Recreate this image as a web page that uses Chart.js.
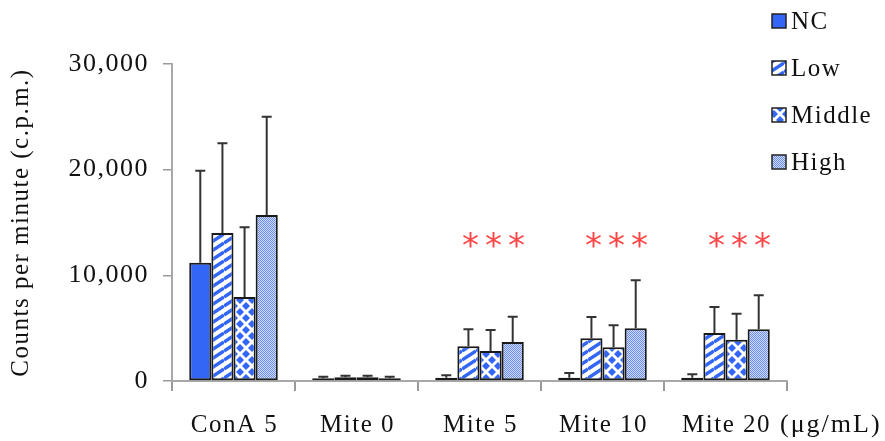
<!DOCTYPE html>
<html>
<head>
<meta charset="utf-8">
<script src="https://cdn.jsdelivr.net/npm/chart.js@4.4.1/dist/chart.umd.min.js"></script>
<style>
  html, body { margin: 0; padding: 0; background: #fff; }
</style>
</head>
<body>
<canvas id="myChart" width="885" height="441"></canvas>
<script>
// data
const groups = ["ConA 5", "Mite 0", "Mite 5", "Mite 10", "Mite 20"];
const seriesNames = ["NC", "Low", "Middle", "High"];
const ncVals = [11200, 250, 300, 300, 300];
const lowVals = [14000, 350, 3300, 4050, 4550];
const midVals = [7950, 350, 2850, 3200, 3900];
const highVals = [15700, 250, 3700, 5000, 4900];
const ncErr = [8700, 150, 250, 450, 350];
const lowErr = [8500, 150, 1600, 2000, 2450];
const midErr = [6600, 150, 1980, 2080, 2460];
const highErr = [9300, 150, 2370, 4540, 3220];
const yTicks = [0, 10000, 20000, 30000];
const stars = ["", "", "***", "***", "***"];
const starLevel = 13300;
const unitLabel = "(\u03bcg/mL)";

const serif = "'Liberation Serif', 'Times New Roman', serif";
const blue = "#3366f5";

// fill patterns
function makeTile(w, h, draw) {
  let c = document.createElement("canvas");
  c.width = w;
  c.height = h;
  let g = c.getContext("2d");
  draw(g);
  return document.getElementById("myChart").getContext("2d").createPattern(c, "repeat");
}

let stripes = makeTile(14, 9, (g) => {
  g.fillStyle = "#fff";
  g.fillRect(0, 0, 14, 9);
  g.strokeStyle = blue;
  g.lineWidth = 3.5;
  g.beginPath();
  for (let k = -1; k <= 1; k++) {
    g.moveTo(0, 9 + k * 9);
    g.lineTo(14, k * 9);
  }
  g.stroke();
});

let diamonds = makeTile(12, 12, (g) => {
  g.fillStyle = "#fff";
  g.fillRect(0, 0, 12, 12);
  g.fillStyle = blue;
  let pts = [[6, 6], [0, 0], [12, 0], [0, 12], [12, 12]];
  pts.forEach((p) => {
    g.beginPath();
    g.moveTo(p[0], p[1] - 4);
    g.lineTo(p[0] + 4, p[1]);
    g.lineTo(p[0], p[1] + 4);
    g.lineTo(p[0] - 4, p[1]);
    g.closePath();
    g.fill();
  });
});

let checker = makeTile(2, 2, (g) => {
  g.fillStyle = "#d2ddfc";
  g.fillRect(0, 0, 2, 2);
  g.fillStyle = "#6a8cf2";
  g.fillRect(0, 0, 1, 1);
  g.fillRect(1, 1, 1, 1);
});

// the old figure's text is set wide
const spacing = {
  id: "spacing",
  beforeUpdate(chart) { chart.ctx.letterSpacing = "1.5px"; },
  beforeDraw(chart) { chart.ctx.letterSpacing = "1.5px"; }
};

const errorBars = {
  id: "errorBars",
  afterDatasetsDraw(chart) {
    let ctx = chart.ctx;
    let y = chart.scales.y;
    ctx.save();
    ctx.strokeStyle = "#333";
    ctx.lineWidth = 2;
    chart.data.datasets.forEach((ds, i) => {
      let meta = chart.getDatasetMeta(i);
      meta.data.forEach((bar, j) => {
        let top = y.getPixelForValue(ds.data[j] + ds.errors[j]);
        ctx.beginPath();
        ctx.moveTo(bar.x, bar.y);
        ctx.lineTo(bar.x, top);
        ctx.moveTo(bar.x - 5, top);
        ctx.lineTo(bar.x + 5, top);
        ctx.stroke();
      });
    });
    ctx.restore();
  }
};

const extras = {
  id: "extras",
  afterDraw(chart) {
    let ctx = chart.ctx;
    let x = chart.scales.x;
    let y = chart.scales.y;
    ctx.save();

    // significance stars over the Middle bar
    let mid = chart.getDatasetMeta(2);
    ctx.fillStyle = "#ff4747";
    ctx.font = "34px 'DejaVu Sans', sans-serif";
    ctx.letterSpacing = "6px";
    ctx.textAlign = "center";
    ctx.textBaseline = "middle";
    stars.forEach((s, j) => {
      if (!s) return;
      ctx.fillText(s, mid.data[j].x + 6, y.getPixelForValue(starLevel) + 8);
    });

    // category labels and unit
    ctx.letterSpacing = "1.5px";
    ctx.fillStyle = "#111";
    ctx.font = "25px " + serif;
    ctx.textBaseline = "alphabetic";
    groups.forEach((g, j) => {
      ctx.fillText(g, x.getPixelForValue(j) + 1, 432);
    });
    ctx.textAlign = "left";
    ctx.letterSpacing = "2px";
    ctx.font = "26px " + serif;
    ctx.fillText(unitLabel, x.right - 7, 432);

    // legend, top right
    ctx.letterSpacing = "1.5px";
    ctx.font = "25px " + serif;
    ctx.textBaseline = "middle";
    chart.data.datasets.forEach((ds, i) => {
      let cy = 21 + i * 47;
      ctx.fillStyle = ds.backgroundColor;
      ctx.fillRect(772, cy - 7, 14, 14);
      ctx.strokeStyle = "#222";
      ctx.lineWidth = 1.5;
      ctx.strokeRect(772, cy - 7, 14, 14);
      ctx.fillStyle = "#111";
      ctx.fillText(ds.label, 791, cy + 1);
    });
    ctx.restore();
  }
};

let mychart = document.getElementById("myChart").getContext("2d");
let barChart = new Chart(mychart, {
  type: "bar",
  data: {
    labels: groups,
    datasets: [
      { label: seriesNames[0], data: ncVals, errors: ncErr, backgroundColor: blue },
      { label: seriesNames[1], data: lowVals, errors: lowErr, backgroundColor: stripes },
      { label: seriesNames[2], data: midVals, errors: midErr, backgroundColor: diamonds },
      { label: seriesNames[3], data: highVals, errors: highErr, backgroundColor: checker }
    ].map((d) => Object.assign(d, {
      borderColor: "#1a1a1a",
      borderWidth: 2,
      borderSkipped: false,
      categoryPercentage: 0.72,
      barPercentage: 1.0
    }))
  },
  options: {
    responsive: false,
    animation: false,
    layout: { padding: { top: 64, right: 98, left: 0, bottom: 0 } },
    plugins: {
      legend: { display: false },
      tooltip: { enabled: false }
    },
    scales: {
      x: {
        grid: { drawOnChartArea: false, color: "#9a9a9a", lineWidth: 2, tickLength: 10 },
        border: { color: "#a8a8a8", width: 2 },
        ticks: { display: false },
        afterFit(scale) { scale.height = 60; }
      },
      y: {
        min: 0,
        max: 30000,
        afterBuildTicks(scale) { scale.ticks = yTicks.map((v) => ({ value: v })); },
        grid: { drawOnChartArea: false, color: "#9a9a9a", lineWidth: 1.5, tickLength: 9 },
        border: { color: "#a8a8a8", width: 2 },
        ticks: {
          color: "#111",
          font: { family: serif, size: 26 },
          padding: 14,
          callback: (v) => v.toLocaleString("en-US")
        },
        title: {
          display: true,
          text: "Counts per minute (c.p.m.)",
          color: "#111",
          font: { family: serif, size: 25 },
          padding: { top: 6, bottom: 0 }
        },
        afterFit(scale) { scale.width = 172; }
      }
    }
  },
  plugins: [spacing, errorBars, extras]
});
</script>
</body>
</html>
